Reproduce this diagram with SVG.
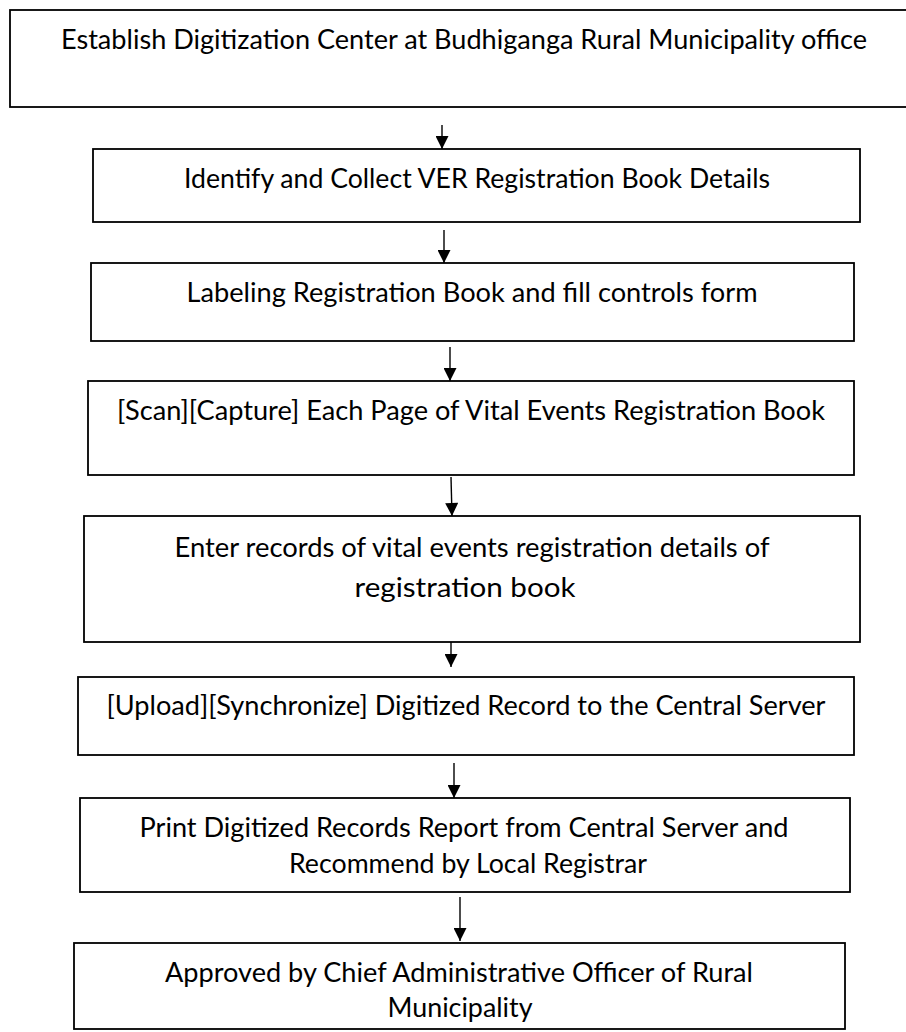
<svg xmlns="http://www.w3.org/2000/svg" width="906" height="1032" viewBox="0 0 906 1032">
<defs>
<marker id="ah" viewBox="0 0 10 10" refX="10" refY="5" markerWidth="16" markerHeight="13" markerUnits="userSpaceOnUse" orient="auto">
<path d="M0,0 L10,5 L0,10 z" fill="#000"/>
</marker>
<style>
.box{fill:#fff;stroke:#000;stroke-width:1.8}
.t{font-family:Lato,"Liberation Sans",sans-serif;font-size:26px;fill:#000;text-anchor:middle}
.c{stroke:#000;stroke-width:1.4;fill:none;marker-end:url(#ah)}
</style>
</defs>
<rect width="906" height="1032" fill="#fff"/>
<g id="connectors">
<line class="c" x1="442" y1="125" x2="442" y2="149"/>
<line class="c" x1="444" y1="230" x2="444" y2="263"/>
<line class="c" x1="450" y1="347" x2="450" y2="381"/>
<line class="c" x1="451" y1="477" x2="452" y2="516"/>
<line class="c" x1="451" y1="635" x2="451" y2="667"/>
<line class="c" x1="454" y1="763" x2="454" y2="798"/>
<line class="c" x1="460" y1="897" x2="460" y2="941"/>
</g>
<g id="n1">
<rect class="box" x="10" y="10" width="908" height="97"/>
<text class="t" x="464" y="49" textLength="806" lengthAdjust="spacingAndGlyphs">Establish Digitization Center at Budhiganga Rural Municipality office</text>
</g>
<g id="n2">
<rect class="box" x="93" y="149" width="767" height="73"/>
<text class="t" x="477" y="188" textLength="586" lengthAdjust="spacingAndGlyphs">Identify and Collect VER Registration Book Details</text>
</g>
<g id="n3">
<rect class="box" x="91" y="263" width="763" height="78"/>
<text class="t" x="472" y="302" textLength="571" lengthAdjust="spacingAndGlyphs">Labeling Registration Book and fill controls form</text>
</g>
<g id="n4">
<rect class="box" x="88" y="381" width="766" height="94"/>
<text class="t" x="471" y="420" textLength="708" lengthAdjust="spacingAndGlyphs">[Scan][Capture] Each Page of Vital Events Registration Book</text>
</g>
<g id="n5">
<rect class="box" x="84" y="516" width="776" height="126"/>
<text class="t" x="472" y="557" textLength="595" lengthAdjust="spacingAndGlyphs">Enter records of vital events registration details of</text>
<text class="t" x="465" y="597" textLength="221" lengthAdjust="spacingAndGlyphs">registration book</text>
</g>
<g id="n6">
<rect class="box" x="78" y="677" width="776" height="78"/>
<text class="t" x="466" y="715" textLength="719" lengthAdjust="spacingAndGlyphs">[Upload][Synchronize] Digitized Record to the Central Server</text>
</g>
<g id="n7">
<rect class="box" x="80" y="798" width="770" height="94"/>
<text class="t" x="464" y="837" textLength="649" lengthAdjust="spacingAndGlyphs">Print Digitized Records Report from Central Server and</text>
<text class="t" x="468" y="873" textLength="358" lengthAdjust="spacingAndGlyphs">Recommend by Local Registrar</text>
</g>
<g id="n8">
<rect class="box" x="74" y="943" width="771" height="86"/>
<text class="t" x="459" y="982" textLength="588" lengthAdjust="spacingAndGlyphs">Approved by Chief Administrative Officer of Rural</text>
<text class="t" x="460" y="1017" textLength="145" lengthAdjust="spacingAndGlyphs">Municipality</text>
</g>
</svg>
